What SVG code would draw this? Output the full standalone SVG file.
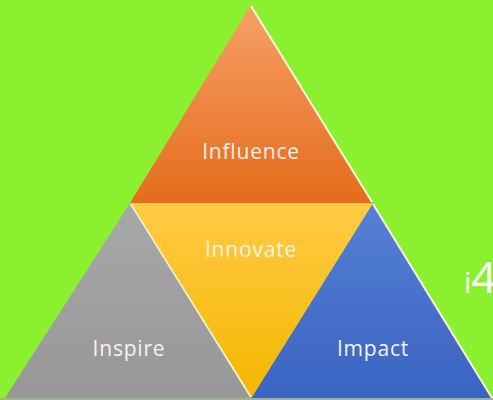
<svg xmlns="http://www.w3.org/2000/svg" width="493" height="400" viewBox="0 0 493 400">
<defs>
<linearGradient id="gO" x1="0" y1="0" x2="0" y2="1"><stop offset="0" stop-color="#F6A066"/><stop offset="1" stop-color="#E46C1C"/></linearGradient>
<linearGradient id="gY" x1="0" y1="0" x2="0" y2="1"><stop offset="0" stop-color="#FFCB45"/><stop offset="1" stop-color="#F5B700"/></linearGradient>
<linearGradient id="gG" x1="0" y1="0" x2="0" y2="1"><stop offset="0" stop-color="#A8A8A8"/><stop offset="1" stop-color="#979797"/></linearGradient>
<linearGradient id="gB" x1="0" y1="0" x2="0" y2="1"><stop offset="0" stop-color="#5580D4"/><stop offset="1" stop-color="#3A64C2"/></linearGradient>
<style>
.t{font-family:"Open Sans","Liberation Sans",sans-serif;font-size:21px;letter-spacing:0.8px;fill:#F8F2EC;text-anchor:middle}
.hl{stroke:#FFF6D8;stroke-width:2;fill:none}
</style>
</defs>
<rect width="493" height="400" fill="#8AF02F"/>
<g id="top"><polygon points="251,5 130,203 373,203" fill="url(#gO)"/><line class="hl" x1="251" y1="6" x2="372" y2="202" stroke="#FFE6C8"/><text class="t" x="251" y="159">Influence</text></g>
<g id="left"><polygon points="130,203 5,398 251,398" fill="url(#gG)"/><line class="hl" x1="131" y1="204" x2="251" y2="397" stroke="#FFFFC8" stroke-width="2.5"/><text class="t" x="129" y="356">Inspire</text></g>
<g id="right"><polygon points="373,203 492,398 251,398" fill="url(#gB)"/><line class="hl" x1="373" y1="204" x2="492" y2="398" stroke="#B8D4FF"/><text class="t" x="373" y="356">Impact</text></g>
<g id="middle"><polygon points="131,203 373,203 252,397" fill="url(#gY)"/><text class="t" x="251" y="257">Innovate</text></g>
<line x1="0" y1="399" x2="493" y2="399" stroke="#9DB58A" stroke-width="2"/>
<text x="464" y="293" font-family="'Open Sans','Liberation Sans',sans-serif" fill="#ffffff"><tspan font-size="29">i</tspan><tspan font-size="44">4</tspan></text>
</svg>
